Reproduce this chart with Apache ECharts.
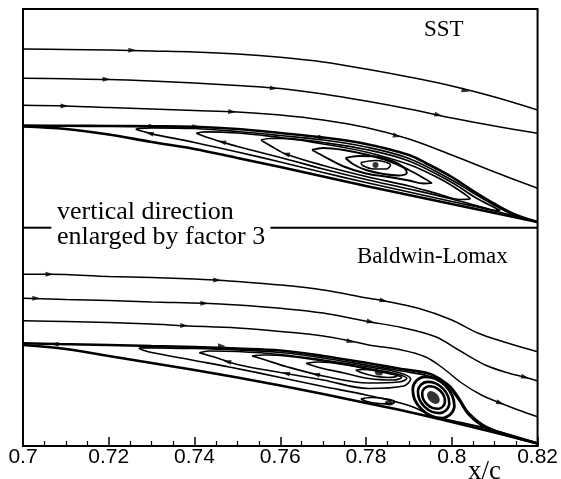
<!DOCTYPE html>
<html><head><meta charset="utf-8">
<script src="https://cdn.jsdelivr.net/npm/echarts@6/dist/echarts.min.js"></script>
<style>html,body{margin:0;padding:0;background:#fff}#c{width:561px;height:479px}</style>
</head><body><div id="c"></div>
<script>
// x axis: x/c ; y: vertical position (enlarged, arbitrary units, 0 = bottom of frame)
const xTickLabels = ['0.7','0.72','0.74','0.76','0.78','0.8','0.82'];

// ---- SST panel (upper) ----
const sstStream1 = [[0.70,397],[0.71,396.5],[0.72,396],[0.73,395],[0.74,394],[0.75,392],[0.76,388.7],[0.77,384],[0.78,377],[0.79,369],[0.80,360],[0.81,349],[0.82,336]];
const sstStream2 = [[0.70,367.7],[0.71,367.2],[0.72,366.5],[0.73,365],[0.74,363],[0.75,360.5],[0.76,357.5],[0.77,352],[0.78,345],[0.79,337],[0.80,328],[0.81,320],[0.82,312.7]];
const sstStream3 = [[0.70,340.7],[0.71,340],[0.72,338.5],[0.73,337],[0.74,335.5],[0.75,334],[0.76,331],[0.77,326],[0.78,318.5],[0.79,307],[0.80,291],[0.81,274],[0.82,257.7]];
const sstSeparatrix = [[0.70,320.5],[0.71,320.2],[0.72,320],[0.73,319.7],[0.74,319.2],[0.75,317],[0.76,313],[0.77,308.5],[0.78,302],[0.79,291],[0.7939,283],[0.80,269],[0.805,255],[0.81,242],[0.815,231],[0.82,224]];
const sstWall = [[0.70,319.5],[0.71,317],[0.72,311.5],[0.73,304],[0.74,297],[0.75,288],[0.76,279],[0.77,269.5],[0.78,260],[0.79,251],[0.80,242],[0.81,233],[0.82,224]];
const sstLoop1 = [[0.82,224],[0.815,230],[0.81,240.5],[0.805,253],[0.80,266],[0.79,287.5],[0.78,299],[0.77,306],[0.76,310.5],[0.75,314.5],[0.74,317.5],[0.73,318.2],[0.7271,317.7],[0.7264,316.7],[0.7276,315],[0.73,312.2],[0.74,303.5],[0.75,294],[0.76,284],[0.77,273.5],[0.78,263.5],[0.79,254],[0.80,244.5],[0.81,235],[0.82,224]];
const sstLoopA = [[0.7404,312.7],[0.7423,314.2],[0.75,313],[0.76,308.5],[0.77,303.5],[0.78,296.5],[0.79,285],[0.80,263.5],[0.8057,248],[0.8097,239],[0.8113,235.5],[0.8090,236.5],[0.80,247],[0.79,257],[0.78,266.5],[0.77,277],[0.76,288.5],[0.75,299.5],[0.7464,304],[0.7427,309],[0.7404,312.7]];
const sstLoopB = [[0.7555,306],[0.7574,307.5],[0.76,307.5],[0.77,302],[0.78,294],[0.79,281.5],[0.7969,268],[0.8016,256],[0.8043,247],[0.8020,246.5],[0.7969,252],[0.79,260],[0.78,269.5],[0.77,280.5],[0.7613,292],[0.7578,300],[0.7555,306]];
const sstEddy1 = [[0.7674,296],[0.77,298],[0.7748,296],[0.78,291.5],[0.7853,285],[0.79,276],[0.7934,268],[0.7953,263],[0.7934,262.5],[0.79,265.5],[0.7853,269],[0.78,272.5],[0.7748,279.5],[0.77,290],[0.7674,296]];
const sstEddy2 = [[0.7752,288],[0.7783,290],[0.7822,289.5],[0.7864,284.5],[0.7888,278.5],[0.7895,273],[0.7876,270.5],[0.7841,272],[0.78,276],[0.7771,281.5],[0.7752,288]];
const sstEddy3 = [[0.7788,283.5],[0.7822,285.5],[0.7857,281],[0.7848,277],[0.7818,277],[0.7792,280.5],[0.7788,283.5]];
const sstCore = [[0.7822,281]];
// arrows: [x, y, heading in degrees (0 = downstream to the right, 180 = reversed)]
const sstArrows = [[0.7255,395.7,1],[0.8032,355.3,14],[0.7195,366.7,1],[0.7585,357.7,6],[0.7969,331,12],[0.7097,340,1],[0.7488,334.3,4],[0.7872,310,15],[0.7302,319.7,0],[0.7404,319.2,1],[0.7697,308.5,8],[0.7295,312.7,192],[0.7464,304,193],[0.7613,292,194]];

// ---- Baldwin-Lomax panel (lower) ----
const blStream1 = [[0.70,171.7],[0.7062,171.7],[0.72,169.5],[0.73,168.5],[0.74,167],[0.7453,165.8],[0.75,164.5],[0.76,161],[0.77,156],[0.7806,147.7],[0.7841,145.3],[0.7922,137.7],[0.80,126],[0.8062,112.7],[0.8132,102.7],[0.82,94.3]];
const blStream2 = [[0.70,147.7],[0.71,146.5],[0.72,145.5],[0.73,144],[0.7423,142.7],[0.75,141],[0.76,137.7],[0.77,133],[0.7806,124.3],[0.7883,118.5],[0.7962,109.3],[0.8016,96],[0.8078,81],[0.8132,73],[0.8171,68.7],[0.82,65]];
const blStream3 = [[0.70,125.3],[0.71,124.5],[0.72,123.5],[0.73,122],[0.7376,120.3],[0.75,118],[0.76,114.5],[0.77,110],[0.7764,105],[0.7806,101],[0.7883,96],[0.7939,89],[0.7976,79],[0.8023,63],[0.8069,51],[0.8113,43],[0.8155,36],[0.82,29.3]];
const blSeparatrix = [[0.70,102.7],[0.7078,102],[0.72,101],[0.73,100],[0.74,99],[0.75,97.5],[0.76,95.5],[0.77,90],[0.7806,82.7],[0.7883,77],[0.7946,72.5],[0.7976,66],[0.7997,59],[0.8016,48],[0.8039,33],[0.8078,19.5],[0.8132,11],[0.82,2.5]];
const blWall = [[0.70,101],[0.71,97],[0.72,90],[0.73,83],[0.74,76],[0.75,68.5],[0.76,60.5],[0.77,52],[0.78,43],[0.79,34],[0.80,24],[0.81,13.5],[0.82,2.5]];
const blLoop1 = [[0.82,2.5],[0.8132,10],[0.8078,18],[0.8039,31],[0.8016,46],[0.7997,56.5],[0.7976,63.5],[0.7946,70],[0.7883,75],[0.7806,80.5],[0.77,88],[0.76,93.5],[0.75,96],[0.74,97.5],[0.73,98.2],[0.7278,98.2],[0.7271,97.7],[0.7283,95.5],[0.73,93.5],[0.74,85.5],[0.7481,79],[0.76,68.5],[0.77,59.5],[0.78,51],[0.79,40.5],[0.7962,29],[0.80,25.5],[0.81,15.5],[0.82,3]];
const blLoop2 = [[0.7411,93.3],[0.7434,95],[0.75,94.5],[0.76,91.5],[0.77,86],[0.7806,79],[0.7876,73.5],[0.7904,67],[0.7888,60],[0.7806,57.5],[0.77,66],[0.76,73.5],[0.75,81.5],[0.7446,89],[0.7411,93.3]];
const blLoop3 = [[0.7534,90],[0.7562,91],[0.76,90.5],[0.77,85],[0.7806,77.5],[0.7872,72],[0.7895,67.5],[0.7876,64],[0.7806,63],[0.77,70],[0.7613,79.5],[0.7562,86.5],[0.7534,90]];
const blLoop4 = [[0.766,82.7],[0.769,84],[0.7748,81.5],[0.7806,76.5],[0.7864,71.5],[0.7883,68.5],[0.7864,66],[0.7806,67.5],[0.7748,73],[0.769,78.5],[0.766,82.7]];
const blLoop5 = [[0.7776,76],[0.7795,76.5],[0.783,75],[0.786,72.5],[0.7872,70],[0.7853,68.5],[0.7818,70],[0.7788,73.5],[0.7776,76]];
const blEye = [[0.7788,47],[0.7813,48.5],[0.7841,47.5],[0.7867,44.5],[0.786,42],[0.783,42.5],[0.7802,44.5],[0.7788,47]];
const blVortex1 = [[0.7979,39.31],[0.7968,37.18],[0.7955,38.08],[0.7942,41.78],[0.7933,47.28],[0.7931,53.10],[0.7936,57.69],[0.7947,59.82],[0.7960,58.92],[0.7973,55.22],[0.7982,49.72],[0.7984,43.90],[0.7979,39.31]];
const blVortex2 = [[0.7987,35.77],[0.7972,32.88],[0.7954,34.14],[0.7936,39.31],[0.7924,46.90],[0.7921,54.92],[0.7928,61.23],[0.7943,64.12],[0.7961,62.86],[0.7979,57.69],[0.7991,50.10],[0.7994,42.08],[0.7987,35.77]];
const blVortex3 = [[0.7997,31.53],[0.7978,27.79],[0.7953,29.60],[0.7930,36.48],[0.7913,46.58],[0.7909,57.19],[0.7918,65.47],[0.7937,69.21],[0.7962,67.40],[0.7985,60.52],[0.8001,50.42],[0.8006,39.81],[0.7997,31.53]];
const blCore = [[0.7957,48.5]];
const blSmallCores = [[0.783,73],[0.7853,43]];
const blArrows = [[0.7062,171.7,0],[0.7453,165.8,2],[0.7841,145.3,12],[0.7031,147.7,0],[0.7423,142.7,2],[0.7811,124.3,10],[0.8171,68.7,16],[0.7376,120.3,2],[0.7764,104.5,13],[0.8113,43,21],[0.7074,102,182],[0.7464,100,2],[0.7476,84.5,192],[0.7613,72.7,192],[0.7683,71.7,192]];

// panel divider (interrupted by the note)
const dividerLeft = [[0.70,218.3],[0.7066,218.3]];
const dividerRight = [[0.7577,218.3],[0.82,218.3]];

const chart = echarts.init(document.getElementById('c'), null, {renderer:'canvas'});
const ln = (data, width, smooth) => ({type:'line', data, smooth: smooth === undefined ? 0.35 : smooth, symbol:'none', silent:true, animation:false, lineStyle:{color:'#000', width}, z:3});
const arrowSeries = (arr) => ({type:'scatter', silent:true, animation:false, symbol:'triangle', symbolSize:[5,8], itemStyle:{color:'#000'}, z:4,
  data: arr.map(a => ({value:[a[0], a[1]], symbolRotate: -90 - a[2]}))});

const series = [
  ln(sstStream1,1.5), ln(sstStream2,1.5), ln(sstStream3,1.5),
  ln(sstSeparatrix,2.6), ln(sstWall,2.6),
  ln(sstLoop1,1.7), ln(sstLoopA,1.7), ln(sstLoopB,1.7),
  ln(sstEddy1,1.9), ln(sstEddy2,1.9), ln(sstEddy3,1.6),
  ln(blStream1,1.5), ln(blStream2,1.5), ln(blStream3,1.5),
  ln(blSeparatrix,2.6), ln(blWall,2.6),
  ln(blLoop1,1.7), ln(blLoop2,1.7), ln(blLoop3,1.7), ln(blLoop4,1.7), ln(blLoop5,1.7), ln(blEye,1.7),
  ln(blVortex1,2.6,0.4), ln(blVortex2,2.6,0.4), ln(blVortex3,2.8,0.4),
  ln(dividerLeft,2,false), ln(dividerRight,2,false),
  arrowSeries(sstArrows), arrowSeries(blArrows),
  {type:'scatter', silent:true, animation:false, symbol:'circle', symbolSize:6, itemStyle:{color:'#000'}, data: sstCore, z:4},
  {type:'scatter', silent:true, animation:false, symbol:'circle', itemStyle:{color:'#000'}, z:4,
    data: blCore.map(p => ({value:p, symbolSize:[15,10], symbolRotate:-45}))},
  {type:'scatter', silent:true, animation:false, symbol:'circle', itemStyle:{color:'#000'}, z:4,
    data: blSmallCores.map(p => ({value:p, symbolSize:[8,5], symbolRotate:-10}))}
];

chart.setOption({
  backgroundColor:'#fff',
  animation:false,
  grid:{left:23, right:22, top:9, bottom:33, show:true, borderColor:'#000', borderWidth:2, backgroundColor:'transparent'},
  xAxis:{type:'value', min:0.7, max:0.82, interval:0.02,
    axisLine:{show:true, lineStyle:{color:'#000', width:2}},
    axisTick:{show:true, inside:true, length:9, lineStyle:{color:'#000', width:1.5}},
    minorTick:{show:true, splitNumber:4, length:5, lineStyle:{color:'#000', width:1.2}},
    splitLine:{show:false}, minorSplitLine:{show:false},
    axisLabel:{color:'#000', fontFamily:'Liberation Sans', fontSize:21, margin:1,
      formatter: v => { const i = Math.round((v - 0.7) / 0.02); return xTickLabels[i] !== undefined ? xTickLabels[i] : ''; }}
  },
  yAxis:{type:'value', min:0, max:437, show:false},
  graphic:[
    {type:'text', style:{text:'SST', x:424, y:29.8, verticalAlign:'middle', font:'23px "Liberation Serif"', fill:'#000'}},
    {type:'text', style:{text:'Baldwin-Lomax', x:357, y:257, verticalAlign:'middle', font:'23px "Liberation Serif"', fill:'#000'}},
    {type:'text', style:{text:'vertical direction', x:57, y:212, verticalAlign:'middle', font:'26px "Liberation Serif"', fill:'#000'}},
    {type:'text', style:{text:'enlarged by factor 3', x:57, y:237, verticalAlign:'middle', font:'26px "Liberation Serif"', fill:'#000'}},
    {type:'text', style:{text:'x/c', x:468, y:472, verticalAlign:'middle', font:'27px "Liberation Serif"', fill:'#000'}}
  ],
  series
});
</script></body></html>
